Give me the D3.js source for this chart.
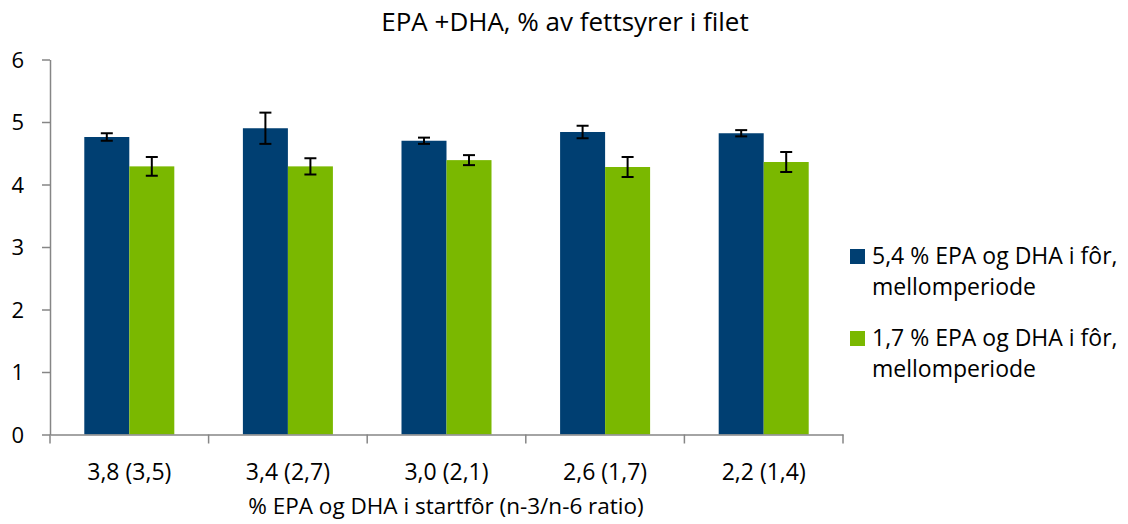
<!DOCTYPE html>
<html>
<head>
<meta charset="utf-8">
<script src="https://cdn.jsdelivr.net/npm/d3@7"></script>
<style>
  body { margin: 0; background: #fff; }
  svg text { font-family: "Open Sans", sans-serif; fill: #000; }
</style>
</head>
<body>
<svg id="chart" width="1128" height="524"></svg>
<script>
// categories and series
var categories = ["3,8 (3,5)", "3,4 (2,7)", "3,0 (2,1)", "2,6 (1,7)", "2,2 (1,4)"];
var seriesNames = ["5,4 % EPA og DHA i fôr, mellomperiode", "1,7 % EPA og DHA i fôr, mellomperiode"];
var seriesHigh = [4.76, 4.90, 4.70, 4.84, 4.82];
var seriesLow = [4.29, 4.29, 4.39, 4.28, 4.36];
var errHigh = [0.06, 0.25, 0.05, 0.10, 0.05];
var errLow = [0.15, 0.13, 0.08, 0.16, 0.16];
var yTicks = [0, 1, 2, 3, 4, 5, 6];
var colors = ["#003f72", "#7ab800"];

var svg = d3.select("#chart");

var x = d3.scaleBand().domain(categories).range([50, 843]).padding(0);
var xSub = d3.scaleBand().domain([0, 1]).range([0, x.bandwidth()]).paddingInner(0).paddingOuter(0.762);
var y = d3.scaleLinear().domain([0, 6]).range([434.5, 59.5]);

// build rows for drawing
var rows = [];
categories.forEach(function(c, i) {
    rows.push({cat: c, s: 0, v: seriesHigh[i], e: errHigh[i]});
    rows.push({cat: c, s: 1, v: seriesLow[i], e: errLow[i]});
});

// title
svg.append("text")
    .attr("x", 565).attr("y", 31)
    .attr("text-anchor", "middle")
    .style("font-size", "26px")
    .text("EPA +DHA, % av fettsyrer i filet");

// bars
svg.append("g").selectAll("rect")
    .data(rows).enter()
    .append("rect")
    .attr("x", function(d) { return x(d.cat) + xSub(d.s); })
    .attr("y", function(d) { return y(d.v); })
    .attr("width", xSub.bandwidth())
    .attr("height", function(d) { return y(0) - y(d.v); })
    .attr("fill", function(d) { return colors[d.s]; });

// error bars
var eb = svg.append("g").selectAll("g")
    .data(rows).enter()
    .append("g")
    .attr("stroke", "#000")
    .attr("stroke-width", 2);
eb.append("line")
    .attr("x1", function(d) { return x(d.cat) + xSub(d.s) + xSub.bandwidth() / 2; })
    .attr("x2", function(d) { return x(d.cat) + xSub(d.s) + xSub.bandwidth() / 2; })
    .attr("y1", function(d) { return y(d.v + d.e); })
    .attr("y2", function(d) { return y(d.v - d.e); });
[1, -1].forEach(function(sign) {
    eb.append("line")
        .attr("x1", function(d) { return x(d.cat) + xSub(d.s) + xSub.bandwidth() / 2 - 6; })
        .attr("x2", function(d) { return x(d.cat) + xSub(d.s) + xSub.bandwidth() / 2 + 6; })
        .attr("y1", function(d) { return y(d.v + sign * d.e); })
        .attr("y2", function(d) { return y(d.v + sign * d.e); });
});

// y axis
var yAxis = svg.append("g")
    .attr("transform", "translate(50,0)")
    .call(d3.axisLeft(y).tickValues(yTicks).tickFormat(d3.format("d"))
        .tickSize(8).tickSizeOuter(0).tickPadding(18));
yAxis.select(".domain").attr("stroke", "#868686").attr("stroke-width", 1.5);
yAxis.selectAll(".tick line").attr("stroke", "#868686").attr("stroke-width", 1.5);
yAxis.selectAll(".tick text").style("font-size", "22px").attr("dy", "0.35em");

// x axis
var xAxis = svg.append("g")
    .attr("transform", "translate(0," + y(0) + ")")
    .call(d3.axisBottom(x).tickSize(0).tickSizeOuter(0).tickPadding(45));
xAxis.select(".domain").attr("stroke", "#868686").attr("stroke-width", 1.5);
xAxis.selectAll(".tick text").style("font-size", "23px").attr("dy", "0");
xAxis.selectAll(".bound")
    .data(categories.map(function(c) { return x(c); }).concat([x.range()[1]]))
    .enter().append("line")
    .attr("x1", function(d) { return d; }).attr("x2", function(d) { return d; })
    .attr("y1", 0).attr("y2", 9)
    .attr("stroke", "#868686").attr("stroke-width", 1.5);

svg.append("text")
    .attr("x", 446).attr("y", 514)
    .attr("text-anchor", "middle")
    .style("font-size", "22.5px")
    .text("% EPA og DHA i startfôr (n-3/n-6 ratio)");

// legend
var leg = svg.append("g").selectAll("g")
    .data(seriesNames).enter()
    .append("g")
    .attr("transform", function(d, i) { return "translate(850," + (249 + i * 82) + ")"; });
leg.append("rect")
    .attr("width", 15).attr("height", 15)
    .attr("fill", function(d, i) { return colors[i]; });
leg.append("text")
    .attr("x", 22).attr("y", 15)
    .style("font-size", "23px")
    .text(function(d) { return d.split(", ")[0] + ","; });
leg.append("text")
    .attr("x", 22).attr("y", 46)
    .style("font-size", "23px")
    .text(function(d) { return d.split(", ")[1]; });
</script>
</body>
</html>
